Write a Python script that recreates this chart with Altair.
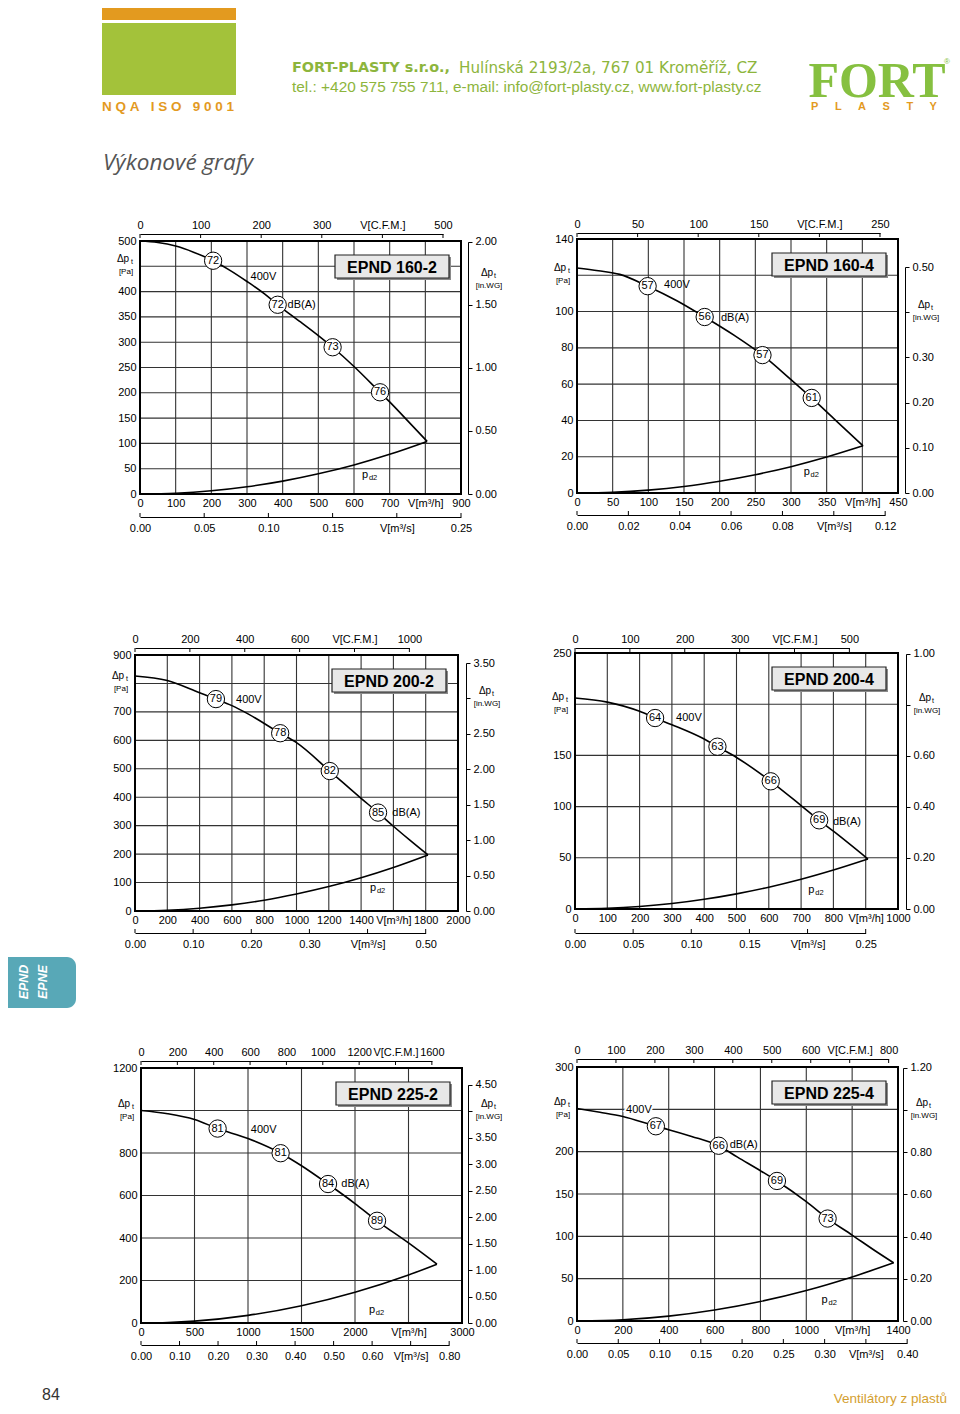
import altair as alt
import pandas as pd

# ------------------------------------------------------------------
# Data (flow in m3/h, pressure in Pa)
# ------------------------------------------------------------------
TITLES = ["EPND 160-2", "EPND 160-4", "EPND 200-2", "EPND 200-4", "EPND 225-2", "EPND 225-4"]

C1_Q = [0, 50, 100, 150, 205, 250, 300, 350, 386, 450, 500, 540, 600, 673, 700, 750, 805]
C1_P = [500, 497, 490, 478, 461, 443, 420, 395, 374, 340, 313, 290, 252, 201, 182, 145, 104]
C1_PD2_Q = [0, 100, 200, 300, 400, 500, 600, 700, 805]
C1_PD2_P = [0, 1.6, 6.4, 14.4, 25.5, 40, 57.5, 78.5, 104]
C1_DB_Q = [205, 386, 540, 673]
C1_DB_P = [461, 374, 290, 201]
C1_DB = [72, 72, 73, 76]

C2_Q = [0, 30, 60, 99, 140, 179, 220, 260, 300, 329, 360, 401]
C2_P = [124, 122.5, 120.5, 114, 106, 97, 87, 76, 62.5, 52.4, 41, 26]
C2_PD2_Q = [0, 50, 100, 150, 200, 250, 300, 350, 401]
C2_PD2_P = [0, 0.4, 1.6, 3.6, 6.5, 10.1, 14.5, 19.8, 26]
C2_DB_Q = [99, 179, 260, 329]
C2_DB_P = [114, 97, 76, 52.4]
C2_DB = [57, 56, 57, 61]

C3_Q = [0, 200, 400, 501, 600, 700, 899, 1000, 1206, 1400, 1505, 1600, 1700, 1814]
C3_P = [826, 810, 767, 745, 722, 693, 625, 592, 492, 396, 346, 298, 250, 197]
C3_PD2_Q = [0, 200, 400, 600, 800, 1000, 1200, 1400, 1600, 1814]
C3_PD2_P = [0, 2.4, 9.6, 21.5, 38, 60, 86, 117, 153, 197]
C3_DB_Q = [501, 899, 1206, 1505]
C3_DB_P = [745, 625, 492, 346]
C3_DB = [79, 78, 82, 85]

C4_Q = [0, 100, 200, 248, 300, 400, 441, 500, 606, 700, 756, 800, 907]
C4_P = [206, 202, 193, 186.5, 180, 166, 158.5, 148, 124.7, 101, 86.6, 76, 48.8]
C4_PD2_Q = [0, 100, 200, 300, 400, 500, 600, 700, 800, 907]
C4_PD2_P = [0, 0.6, 2.4, 5.3, 9.5, 14.8, 21.3, 29, 38, 48.8]
C4_DB_Q = [248, 441, 606, 756]
C4_DB_P = [186.5, 158.5, 124.7, 86.6]
C4_DB = [64, 63, 66, 69]

C5_Q = [0, 250, 500, 716, 1000, 1305, 1500, 1748, 2000, 2206, 2500, 2766]
C5_P = [1000, 985, 958, 915, 868, 799, 740, 654, 562, 481, 377, 277]
C5_PD2_Q = [0, 250, 500, 1000, 1500, 2000, 2500, 2766]
C5_PD2_P = [0, 2.3, 9, 36, 81.5, 145, 226, 277]
C5_DB_Q = [716, 1305, 1748, 2206]
C5_DB_P = [915, 799, 654, 481]
C5_DB = [81, 81, 84, 89]

C6_Q = [0, 100, 200, 344, 400, 500, 618, 700, 800, 872, 1000, 1093, 1200, 1300, 1381]
C6_P = [251, 246.5, 241.5, 230, 226, 218, 207, 193.5, 177.5, 165.4, 141, 121, 101.5, 83, 68.7]
C6_PD2_Q = [0, 200, 400, 600, 800, 1000, 1200, 1381]
C6_PD2_P = [0, 1.5, 5.8, 13, 23, 36, 52, 68.7]
C6_DB_Q = [344, 618, 872, 1093]
C6_DB_P = [230, 207, 165.4, 121]
C6_DB = [67, 66, 69, 73]

# annotation texts: (text, flow, pressure, halo)
C1_ANN = [("400V", 346, 429, False), ("dB(A)", 453, 373, False)]
C2_ANN = [("400V", 140, 114.6, False), ("dB(A)", 221.5, 96.6, False)]
C3_ANN = [("400V", 705, 742, False), ("dB(A)", 1680, 343, False)]
C4_ANN = [("400V", 352.6, 186.5, False), ("dB(A)", 842, 84.6, False)]
C5_ANN = [("400V", 1146, 906, False), ("dB(A)", 2003, 654, False)]
C6_ANN = [("400V", 270, 248.7, True), ("dB(A)", 727, 207.7, False)]
PD2_LABELS = [(631, 37), (322, 11.6), (1474, 80), (732, 18.9), (2159, 63), (1080, 24.5)]

# tick values
C1_XT = [0, 100, 200, 300, 400, 500, 600, 700, 800, 900]
C1_YT = [0, 50, 100, 150, 200, 250, 300, 350, 400, 450, 500]
C1_CFM = [0, 100, 200, 300, 400, 500]
C1_M3S = [0.0, 0.05, 0.10, 0.15, 0.20, 0.25]
C1_WG = [0.0, 0.5, 1.0, 1.5, 2.0]

C2_XT = [0, 50, 100, 150, 200, 250, 300, 350, 400, 450]
C2_YT = [0, 20, 40, 60, 80, 100, 120, 140]
C2_CFM = [0, 50, 100, 150, 200, 250]
C2_M3S = [0.0, 0.02, 0.04, 0.06, 0.08, 0.10, 0.12]
C2_WG = [0.0, 0.1, 0.2, 0.3, 0.4, 0.5]

C3_XT = [0, 200, 400, 600, 800, 1000, 1200, 1400, 1600, 1800, 2000]
C3_YT = [0, 100, 200, 300, 400, 500, 600, 700, 800, 900]
C3_CFM = [0, 200, 400, 600, 800, 1000]
C3_M3S = [0.0, 0.1, 0.2, 0.3, 0.4, 0.5]
C3_WG = [0.0, 0.5, 1.0, 1.5, 2.0, 2.5, 3.0, 3.5]

C4_XT = [0, 100, 200, 300, 400, 500, 600, 700, 800, 900, 1000]
C4_YT = [0, 50, 100, 150, 200, 250]
C4_CFM = [0, 100, 200, 300, 400, 500]
C4_M3S = [0.0, 0.05, 0.10, 0.15, 0.20, 0.25]
C4_WG = [0.0, 0.2, 0.4, 0.6, 0.8, 1.0]

C5_XT = [0, 500, 1000, 1500, 2000, 2500, 3000]
C5_YT = [0, 200, 400, 600, 800, 1000, 1200]
C5_CFM = [0, 200, 400, 600, 800, 1000, 1200, 1400, 1600]
C5_M3S = [0.0, 0.1, 0.2, 0.3, 0.4, 0.5, 0.6, 0.7, 0.8]
C5_WG = [0.0, 0.5, 1.0, 1.5, 2.0, 2.5, 3.0, 3.5, 4.0, 4.5]

C6_XT = [0, 200, 400, 600, 800, 1000, 1200, 1400]
C6_YT = [0, 50, 100, 150, 200, 250, 300]
C6_CFM = [0, 100, 200, 300, 400, 500, 600, 700, 800]
C6_M3S = [0.0, 0.05, 0.10, 0.15, 0.20, 0.25, 0.30, 0.35, 0.40]
C6_WG = [0.0, 0.2, 0.4, 0.6, 0.8, 1.0, 1.2]

# ------------------------------------------------------------------
# Layout / style
# ------------------------------------------------------------------
W, H = 944, 1398
OFF = 8
FONT = "Liberation Sans"
GRID = "#333333"
PA_PER_INWG = 249.089
M3H_PER_CFM = 1.69901
M3H_PER_M3S = 3600.0
ONE = pd.DataFrame({"k": [0]})
NB = "\u00a0"


def c(v):
    return v - OFF


PANELS = [
    dict(frame=(140, 461, 241, 494), cfm_y=234, ms_y=517, wg_x=468,
         q=C1_Q, p=C1_P, pq=C1_PD2_Q, pp=C1_PD2_P, bq=C1_DB_Q, bp=C1_DB_P, db=C1_DB,
         ann=C1_ANN, xt=C1_XT, yt=C1_YT, ct=C1_CFM, st=C1_M3S, wt=C1_WG,
         xrep=800, crep=400, srep=0.20, prep=450, wrep=None, wlab=1.70),
    dict(frame=(577, 898, 239, 493), cfm_y=233, ms_y=515, wg_x=905,
         q=C2_Q, p=C2_P, pq=C2_PD2_Q, pp=C2_PD2_P, bq=C2_DB_Q, bp=C2_DB_P, db=C2_DB,
         ann=C2_ANN, xt=C2_XT, yt=C2_YT, ct=C2_CFM, st=C2_M3S, wt=C2_WG,
         xrep=400, crep=200, srep=0.10, prep=120, wrep=0.4, wlab=0.4),
    dict(frame=(135, 458, 655, 911), cfm_y=648, ms_y=933, wg_x=466,
         q=C3_Q, p=C3_P, pq=C3_PD2_Q, pp=C3_PD2_P, bq=C3_DB_Q, bp=C3_DB_P, db=C3_DB,
         ann=C3_ANN, xt=C3_XT, yt=C3_YT, ct=C3_CFM, st=C3_M3S, wt=C3_WG,
         xrep=1600, crep=800, srep=0.40, prep=800, wrep=3.0, wlab=3.0),
    dict(frame=(575, 898, 653, 909), cfm_y=648, ms_y=933, wg_x=906,
         q=C4_Q, p=C4_P, pq=C4_PD2_Q, pp=C4_PD2_P, bq=C4_DB_Q, bp=C4_DB_P, db=C4_DB,
         ann=C4_ANN, xt=C4_XT, yt=C4_YT, ct=C4_CFM, st=C4_M3S, wt=C4_WG,
         xrep=900, crep=400, srep=0.20, prep=200, wrep=0.8, wlab=0.8),
    dict(frame=(141, 462, 1068, 1323), cfm_y=1061, ms_y=1345, wg_x=468,
         q=C5_Q, p=C5_P, pq=C5_PD2_Q, pp=C5_PD2_P, bq=C5_DB_Q, bp=C5_DB_P, db=C5_DB,
         ann=C5_ANN, xt=C5_XT, yt=C5_YT, ct=C5_CFM, st=C5_M3S, wt=C5_WG,
         xrep=2500, crep=1400, srep=0.70, prep=1000, wrep=4.0, wlab=4.0),
    dict(frame=(577, 898, 1067, 1321), cfm_y=1059, ms_y=1343, wg_x=903,
         q=C6_Q, p=C6_P, pq=C6_PD2_Q, pp=C6_PD2_P, bq=C6_DB_Q, bp=C6_DB_P, db=C6_DB,
         ann=C6_ANN, xt=C6_XT, yt=C6_YT, ct=C6_CFM, st=C6_M3S, wt=C6_WG,
         xrep=1200, crep=700, srep=0.35, prep=250, wrep=1.0, wlab=1.0),
]


def axis(orient, offset, values, fmt, expr, padding, domain=False, ticks=False, tick_size=0):
    return alt.Axis(orient=orient, offset=offset, values=values, format=fmt, labelExpr=expr,
                    domain=domain, domainColor="black", domainWidth=1,
                    ticks=ticks, tickSize=tick_size, tickColor="black", tickWidth=1,
                    grid=False, title=None, labelPadding=padding, labelFlush=False,
                    labelOverlap=False, labelFont=FONT, labelFontSize=11, labelColor="black")


def txt(x, y, s, size, color="black", weight="normal", style="normal", align="center",
        font=FONT, angle=0, baseline="middle"):
    return alt.Chart(ONE).mark_text(text=s, fontSize=size, color=color, fontWeight=weight,
                                    fontStyle=style, align=align, font=font, baseline=baseline,
                                    angle=angle).encode(x=alt.value(x), y=alt.value(y))


def rect(x1, x2, y1, y2, fill, **kw):
    return alt.Chart(ONE).mark_rect(fill=fill, **kw).encode(
        x=alt.value(x1), x2=alt.value(x2), y=alt.value(y1), y2=alt.value(y2))


def panel(i, cfg):
    L, R, T, B = [c(v) for v in cfg["frame"]]
    xt, yt = cfg["xt"], cfg["yt"]
    xmax, ymax = xt[-1], yt[-1]
    xs = alt.Scale(domain=[0, xmax], range=[L, R], nice=False, zero=False)
    ys = alt.Scale(domain=[0, ymax], range=[B, T], nice=False, zero=False)

    def X(f):
        return alt.X(f, type="quantitative", scale=xs, axis=None)

    def Y(f):
        return alt.Y(f, type="quantitative", scale=ys, axis=None)

    def XD(v):
        return alt.XDatum(v, type="quantitative", scale=xs, axis=None)

    def YD(v):
        return alt.YDatum(v, type="quantitative", scale=ys, axis=None)

    vg = alt.Chart(pd.DataFrame({"v": xt})).mark_rule(color=GRID, strokeWidth=1.1).encode(
        x=alt.X("v:Q", scale=xs, axis=axis("bottom", B - H, xt, "d",
                f"datum.value == {cfg['xrep']} ? 'V[m³/h]' : datum.label", 3)),
        y=YD(0), y2=alt.Y2Datum(ymax))
    hg = alt.Chart(pd.DataFrame({"v": yt})).mark_rule(color=GRID, strokeWidth=1.1).encode(
        y=alt.Y("v:Q", scale=ys, axis=axis("left", -L, yt, "d",
                f"datum.value == {cfg['prep']} ? '' : datum.label", 4)),
        x=XD(0), x2=alt.X2Datum(xmax))
    frame = alt.Chart(ONE).mark_rect(fillOpacity=0, stroke="black", strokeWidth=2).encode(
        x=XD(0), x2=alt.X2Datum(xmax), y=YD(0), y2=alt.Y2Datum(ymax))

    curve = alt.Chart(pd.DataFrame({"q": cfg["q"], "p": cfg["p"]})).mark_line(
        color="black", strokeWidth=1.6, interpolate="monotone").encode(x=X("q"), y=Y("p"))
    pd2 = alt.Chart(pd.DataFrame({"q": cfg["pq"], "p": cfg["pp"]})).mark_line(
        color="black", strokeWidth=1.6, interpolate="monotone").encode(x=X("q"), y=Y("p"))

    bx2 = R - 12
    bx1 = bx2 - 114
    by1 = T + 14
    by2 = by1 + 23
    shadow = rect(bx1 + 2, bx2 + 2, by1 + 2, by2 + 2, "#8a8a8a")
    box = rect(bx1, bx2, by1, by2, "#e8e8e8", stroke="#222", strokeWidth=1.2)
    title = txt((bx1 + bx2) / 2, (by1 + by2) / 2 + 1, TITLES[i], 16, weight="bold")

    bdf = pd.DataFrame({"q": cfg["bq"], "p": cfg["bp"], "db": [str(v) for v in cfg["db"]]})
    bub = alt.Chart(bdf).mark_point(shape="circle", filled=True, fill="white", stroke="black",
                                    strokeWidth=1, size=300, opacity=1).encode(x=X("q"), y=Y("p"))
    btx = alt.Chart(bdf).mark_text(font=FONT, fontSize=11, color="black").encode(
        x=X("q"), y=Y("p"), text="db:N")

    layers = [vg, hg, shadow, box, title, curve, pd2, frame, bub, btx]

    for (t, q, p, halo) in cfg["ann"]:
        d = pd.DataFrame({"q": [q], "p": [p], "t": [t]})
        if halo:
            layers.append(alt.Chart(d).mark_text(font=FONT, fontSize=11, color="black",
                                                 stroke="white", strokeWidth=4).encode(
                x=X("q"), y=Y("p"), text="t:N"))
        layers.append(alt.Chart(d).mark_text(font=FONT, fontSize=11, color="black").encode(
            x=X("q"), y=Y("p"), text="t:N"))

    pq, pp = PD2_LABELS[i]
    layers.append(alt.Chart(ONE).mark_text(text="p", font=FONT, fontSize=11).encode(
        x=XD(pq), y=YD(pp)))
    layers.append(alt.Chart(ONE).mark_text(text="d2", font=FONT, fontSize=7.5, dx=8, dy=3).encode(
        x=XD(pq), y=YD(pp)))

    # left axis unit label
    pr = cfg["prep"]
    layers.append(alt.Chart(ONE).mark_text(text="Δp", font=FONT, fontSize=10, dx=-17, dy=-7).encode(
        x=XD(0), y=YD(pr)))
    layers.append(alt.Chart(ONE).mark_text(text="t", font=FONT, fontSize=7, dx=-9, dy=-4, align="left").encode(
        x=XD(0), y=YD(pr)))
    layers.append(alt.Chart(ONE).mark_text(text="[Pa]", font=FONT, fontSize=8, dx=-14, dy=6).encode(
        x=XD(0), y=YD(pr)))

    # secondary top axis: CFM
    ct = cfg["ct"]
    cfm_end = L + ct[-1] * M3H_PER_CFM / xmax * (R - L)
    cs = alt.Scale(domain=[0, ct[-1]], range=[L, cfm_end], nice=False, zero=False)
    cy = c(cfg["cfm_y"])
    layers.append(alt.Chart(pd.DataFrame({"v": ct})).mark_rule(color="black", strokeWidth=1).encode(
        x=alt.X("v:Q", scale=cs, axis=axis("top", -cy, ct, "d",
                f"datum.value == {cfg['crep']} ? 'V[C.F.M.]' : datum.label", 4, domain=True)),
        y=alt.value(cy), y2=alt.value(cy + 4)))

    # secondary bottom axis: m3/s
    st = cfg["st"]
    ms_end = L + st[-1] * M3H_PER_M3S / xmax * (R - L)
    ss = alt.Scale(domain=[0, st[-1]], range=[L, ms_end], nice=False, zero=False)
    sy = c(cfg["ms_y"])
    layers.append(alt.Chart(pd.DataFrame({"v": st})).mark_rule(color="black", strokeWidth=1).encode(
        x=alt.X("v:Q", scale=ss, axis=axis("bottom", sy - H, st, ".2f",
                f"abs(datum.value - {cfg['srep']}) < 0.0001 ? 'V[m³/s]' : datum.label", 5, domain=True)),
        y=alt.value(sy - 4), y2=alt.value(sy)))

    # secondary right axis: in.WG
    wt = cfg["wt"]
    wg_top = B - (wt[-1] * PA_PER_INWG / ymax) * (B - T)
    ws = alt.Scale(domain=[0, wt[-1]], range=[B, wg_top], nice=False, zero=False)
    wx = c(cfg["wg_x"])
    wexpr = "datum.label" if cfg["wrep"] is None else \
        f"abs(datum.value - {cfg['wrep']}) < 0.0001 ? '' : datum.label"
    layers.append(alt.Chart(pd.DataFrame({"v": wt})).mark_point(opacity=0).encode(
        x=alt.value(wx),
        y=alt.Y("v:Q", scale=ws, axis=axis("right", wx - W, wt, ".2f", wexpr, 3,
                                             domain=True, ticks=True, tick_size=4))))

    def WD(v):
        return alt.YDatum(v, type="quantitative", scale=ws, axis=None)

    wl = cfg["wlab"]
    layers.append(alt.Chart(ONE).mark_text(text="Δp", font=FONT, fontSize=10, dy=-7).encode(
        x=alt.value(wx + 19), y=WD(wl)))
    layers.append(alt.Chart(ONE).mark_text(text="t", font=FONT, fontSize=7, dy=-4, align="left").encode(
        x=alt.value(wx + 26), y=WD(wl)))
    layers.append(alt.Chart(ONE).mark_text(text="[in.WG]", font=FONT, fontSize=8, dy=6).encode(
        x=alt.value(wx + 21), y=WD(wl)))

    return layers


# ------------------------------------------------------------------
# Page header / footer
# ------------------------------------------------------------------
ORANGE = "#E39A1F"
GREEN = "#A3C23A"
TGREEN = "#8DB53C"

nqa = NB.join("NQA") + NB * 3 + NB.join("ISO") + NB * 3 + NB.join("9001")
plasty = ("\u2003\u2002").join("PLASTY")

header = [
    rect(94, 228, 0, 12, ORANGE),
    rect(94, 228, 15, 87, GREEN),
    txt(94, 99, nqa, 13.5, color=ORANGE, weight="bold", align="left"),
    txt(284, 60, "FORT-PLASTY s.r.o.,", 14.4, color=TGREEN, weight="bold", align="left", font="DejaVu Sans"),
    txt(451, 60, "Hulínská 2193/2a, 767 01 Kroměříž, CZ", 15.2, color=TGREEN, align="left", font="DejaVu Sans"),
    txt(284, 79, "tel.: +420 575 755 711, e-mail: info@fort-plasty.cz, www.fort-plasty.cz", 15.4,
        color=TGREEN, align="left"),
    txt(869, 89, "FORT", 50, color="#86C040", weight="bold", font="Liberation Serif", baseline="alphabetic"),
    txt(939, 54, "®", 8, color="#86C040"),
    txt(866, 99, plasty, 11, color=ORANGE, weight="bold"),
    txt(95, 155, "Výkonové grafy", 22.5, color="#555555", style="italic", align="left", font="Open Sans"),
    alt.Chart(ONE).mark_rect(fill="#58A8B7", cornerRadiusTopRight=9, cornerRadiusBottomRight=9).encode(
        x=alt.value(0), x2=alt.value(68), y=alt.value(949), y2=alt.value(1000)),
    txt(16, 974, "EPND", 12.5, color="white", weight="bold", style="italic", angle=270),
    txt(35, 974, "EPNE", 12.5, color="white", weight="bold", style="italic", angle=270),
    txt(43, 1387, "84", 16, color="#333333"),
    txt(939, 1391, "Ventilátory z plastů", 13.5, color="#D4A030", align="right"),
]

all_layers = list(header)
for i, cfg in enumerate(PANELS):
    all_layers.extend(panel(i, cfg))

chart = alt.layer(*all_layers).resolve_scale(
    x="independent", y="independent"
).properties(
    width=W, height=H, padding=0, autosize=alt.AutoSizeParams(type="none")
).configure_view(stroke=None)

chart.save("out.html", embed_options={"renderer": "svg", "actions": False})
